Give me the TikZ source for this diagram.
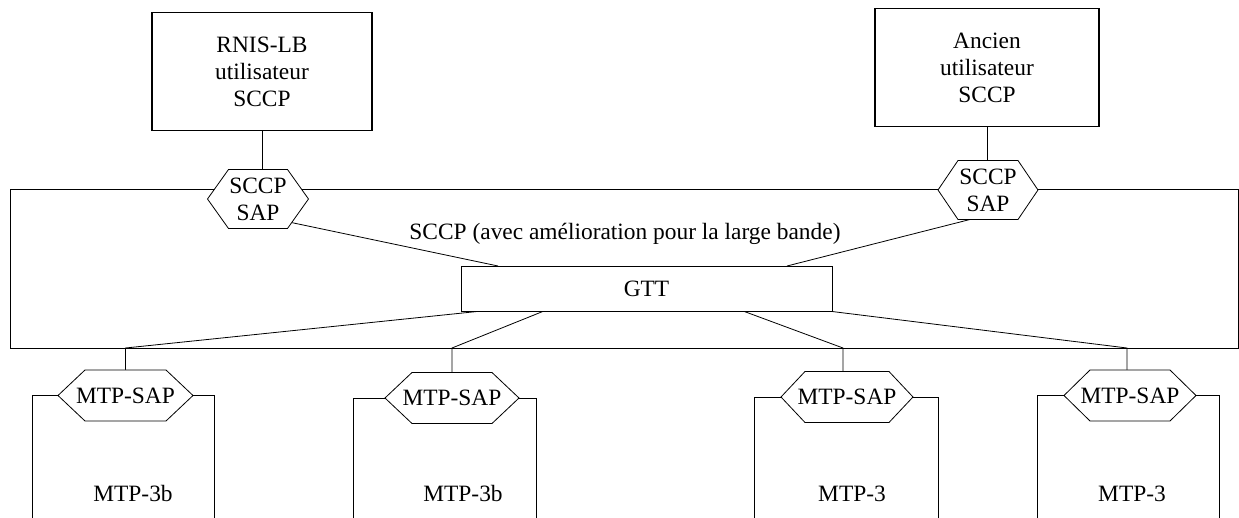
\documentclass[tikz,border=0pt]{standalone}
\usepackage{fontspec}
\setmainfont{Liberation Serif}
\usetikzlibrary{calc}
\pgfdeclarelayer{lines}
\pgfdeclarelayer{hexes}
\pgfsetlayers{lines,hexes,main}
\newcommand\drawhex[2]{%
  \begin{pgfonlayer}{hexes}
  \draw[fill=white] (#1.west) -- ([xshift=#2]#1.north west) -- ([xshift=-#2]#1.north east) -- (#1.east) -- ([xshift=-#2]#1.south east) -- ([xshift=#2]#1.south west) -- cycle;
  \end{pgfonlayer}}
\begin{document}
\begin{tikzpicture}[x=0.5pt,y=-0.5pt, line width=0.7pt,
  every node/.style={font=\fontsize{11.7}{13.5}\selectfont, inner sep=0pt, outer sep=0pt, align=center},
  box/.style={draw, rectangle},
  hexnode/.style={rectangle},
  lbl/.style={}
]
\useasboundingbox (0,0) rectangle (1239,518);
% top user boxes
\node[box, minimum width=110pt, minimum height=59pt] (tl) at (262,71.7) {RNIS-LB\\utilisateur\\SCCP};
\node[box, minimum width=112pt, minimum height=59pt] (tr) at (987,67.5) {Ancien\\utilisateur\\SCCP};
% big SCCP box
\begin{pgfonlayer}{lines}
\node[box, minimum width=614pt, minimum height=79.25pt] (sccp) at (624,268.75) {};
\end{pgfonlayer}
\node[lbl] (sccplbl) at (625,234) {SCCP (avec amélioration pour la large bande)};
% GTT
\node[box, fill=white, minimum width=185.5pt, minimum height=22.5pt] (gtt) at (646.5,288.5) {GTT};
% SCCP SAP hexagons
\node[hexnode, minimum width=50.5pt, minimum height=29.5pt] (hexL) at (258,199) {SCCP\\SAP};
\node[hexnode, minimum width=50pt, minimum height=29.5pt] (hexR) at (988,190) {SCCP\\SAP};
\drawhex{hexL}{10.5pt}
\drawhex{hexR}{10pt}
% MTP SAP hexagons
\node[hexnode, minimum width=67.5pt, minimum height=25.5pt] (h1) at (125.5,395.5) {MTP-SAP};
\node[hexnode, minimum width=67pt, minimum height=25.5pt] (h2) at (452,398) {MTP-SAP};
\node[hexnode, minimum width=66pt, minimum height=25.5pt] (h3) at (847,397) {MTP-SAP};
\node[hexnode, minimum width=66pt, minimum height=25.5pt] (h4) at (1130,395.5) {MTP-SAP};
\drawhex{h1}{13.5pt}
\drawhex{h2}{13.5pt}
\drawhex{h3}{12pt}
\drawhex{h4}{13pt}
% MTP labels
\node[lbl] (m1) at (133,493) {MTP-3b};
\node[lbl] (m2) at (463,493) {MTP-3b};
\node[lbl] (m3) at (852,494) {MTP-3};
\node[lbl] (m4) at (1132,494) {MTP-3};
\begin{pgfonlayer}{lines}
% MTP boxes (open at bottom)
\draw (h1.west) -| (32,518);
\draw (h1.east) -| (214,518);
\draw (h2.west) -| (353,518);
\draw (h2.east) -| (536,518);
\draw (h3.west) -| (754,518);
\draw (h3.east) -| (938,518);
\draw (h4.west) -| (1037,518);
\draw (h4.east) -| (1219,518);
% connectors
\draw (tl.south) -- (tl.south |- hexL.north);
\draw (tr.south) -- (tr.south |- hexR.north);
\draw ($(hexL.east)!0.8!([xshift=-10.5pt]hexL.south east)$) -- ([xshift=18.5pt]gtt.north west);
\draw ([xshift=16pt]hexR.south west) -- ([xshift=-22.5pt]gtt.north east);
\draw ([xshift=10.5pt]gtt.south west) -- (h1.north |- sccp.south) -- (h1.north);
\draw ([xshift=41.5pt]gtt.south west) -- (h2.north |- sccp.south) -- (h2.north);
\draw ([xshift=-44.5pt]gtt.south east) -- ([xshift=-2pt]h3.north |- sccp.south) -- ([xshift=-2pt]h3.north);
\draw ([xshift=-2pt]gtt.south east) -- ([xshift=-1.5pt]h4.north |- sccp.south) -- ([xshift=-1.5pt]h4.north);
\end{pgfonlayer}
\end{tikzpicture}
\end{document}
